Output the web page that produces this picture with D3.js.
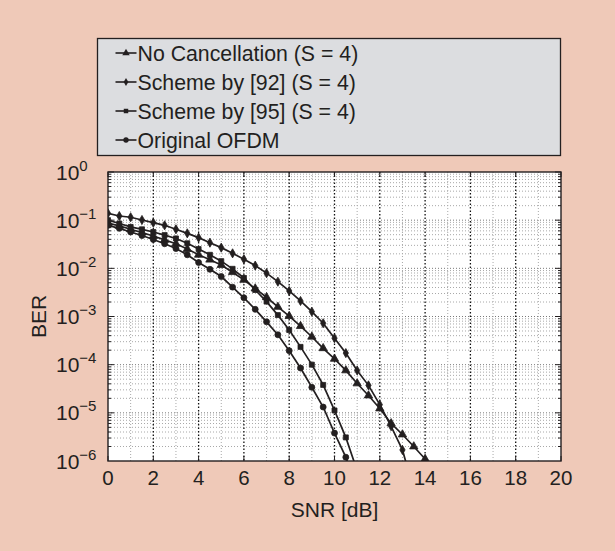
<!DOCTYPE html>
<html>
<head>
<meta charset="utf-8">
<script src="https://cdn.jsdelivr.net/npm/d3@7"></script>
<style>
  html, body { margin: 0; padding: 0; background: #efc9b8; }
  svg { display: block; font-family: "Liberation Sans", Arial, Helvetica, sans-serif; }
</style>
</head>
<body>
<svg id="chart" width="615" height="551"></svg>
<script>
// SNR sample points shared by all curves (dB)
const snrDb = [0, 0.5, 1, 1.5, 2, 2.5, 3, 3.5, 4, 4.5, 5, 5.5, 6, 6.5, 7, 7.5,
  8, 8.5, 9, 9.5, 10, 10.5, 11, 11.5, 12, 12.5, 13, 13.5, 14, 14.5];

// BER values, one entry per SNR point
const berNoCancel = [0.0871, 0.0759, 0.0646, 0.0550, 0.0468, 0.0389, 0.0324, 0.0251,
  0.0191, 0.0151, 0.0117, 0.00832, 0.00575, 0.00380, 0.00251, 0.00158,
  0.00102, 6.31e-4, 3.80e-4, 2.19e-4, 1.32e-4, 7.59e-5, 4.07e-5, 2.29e-5,
  1.23e-5, 6.03e-6, 3.55e-6, 2.00e-6, 1.10e-6, 5.6e-7];
const berScheme92 = [0.139, 0.122, 0.115, 0.101, 0.0887, 0.0782, 0.0646, 0.0533,
  0.0434, 0.0341, 0.0269, 0.0205, 0.0155, 0.0114, 0.00794, 0.00528,
  0.00339, 0.00210, 0.00126, 7.24e-4, 3.55e-4, 1.74e-4, 7.59e-5, 3.72e-5,
  1.48e-5, 5.25e-6, 1.70e-6, 2.5e-7];
const berScheme95 = [0.100, 0.0851, 0.0724, 0.0646, 0.0569, 0.0490, 0.0417, 0.0331,
  0.0251, 0.0191, 0.0141, 0.00977, 0.00631, 0.00355, 0.00204, 0.00107,
  5.25e-4, 2.34e-4, 1.00e-4, 3.80e-5, 1.12e-5, 3.09e-6, 6.3e-7];
const berOriginal = [0.0782, 0.0676, 0.0569, 0.0479, 0.0398, 0.0324, 0.0257, 0.0191,
  0.0132, 0.00955, 0.00676, 0.00407, 0.00245, 0.00141, 7.76e-4, 4.17e-4,
  1.95e-4, 8.51e-5, 3.39e-5, 1.32e-5, 3.80e-6, 1.20e-6, 2.5e-7];

const seriesNames = ["No Cancellation (S = 4)", "Scheme by [92] (S = 4)",
  "Scheme by [95] (S = 4)", "Original OFDM"];

const xTicks = [0, 2, 4, 6, 8, 10, 12, 14, 16, 18, 20];
const yExponents = [0, -1, -2, -3, -4, -5, -6];

const series = [
  { name: seriesNames[0], values: berNoCancel, symbol: d3.symbolTriangle, size: 30 },
  { name: seriesNames[1], values: berScheme92, symbol: d3.symbolDiamond, size: 24 },
  { name: seriesNames[2], values: berScheme95, symbol: d3.symbolSquare, size: 25 },
  { name: seriesNames[3], values: berOriginal, symbol: d3.symbolCircle, size: 28 }
];

const ink = "#231f20";
const svg = d3.select("#chart");
svg.append("rect").attr("width", 615).attr("height", 551).attr("fill", "#efc9b8");

const plot = { left: 108, right: 561, top: 172, bottom: 461 };
const x = d3.scaleLinear().domain([0, 20]).range([plot.left, plot.right]);
const y = d3.scaleLog().domain([1e-6, 1]).range([plot.bottom, plot.top]);

// plot background
svg.append("rect")
  .attr("x", plot.left).attr("y", plot.top)
  .attr("width", plot.right - plot.left).attr("height", plot.bottom - plot.top)
  .attr("fill", "#ffffff");

const grid = svg.append("g");

// horizontal grid: decades and 2..9 minor lines
const minorY = [];
for (let e = -6; e < 0; e++) {
  for (let m = 1; m <= 9; m++) {
    const v = m * Math.pow(10, e);
    if (v > 1e-6 && v < 1) minorY.push({ v, major: m === 1 });
  }
}
grid.selectAll("line.hy").data(minorY).join("line")
  .attr("x1", plot.left).attr("x2", plot.right)
  .attr("y1", d => y(d.v)).attr("y2", d => y(d.v))
  .attr("stroke", d => d.major ? "#7a7a7a" : "#a8a8a8")
  .attr("stroke-width", 1)
  .attr("stroke-dasharray", "1,2");

// vertical grid: dark at even dB, light at odd dB
const vLines = d3.range(1, 20).map(v => ({ v, major: v % 2 === 0 }));
grid.selectAll("line.vx").data(vLines).join("line")
  .attr("x1", d => x(d.v)).attr("x2", d => x(d.v))
  .attr("y1", plot.top).attr("y2", plot.bottom)
  .attr("stroke", d => d.major ? "#111" : "#a8a8a8")
  .attr("stroke-width", d => d.major ? 1.3 : 1)
  .attr("stroke-dasharray", d => d.major ? "1.5,2" : "1,2");

// inward ticks on all four sides
const ticks = svg.append("g").attr("stroke", ink).attr("stroke-width", 1);
xTicks.forEach(t => {
  ticks.append("line").attr("x1", x(t)).attr("x2", x(t))
    .attr("y1", plot.bottom).attr("y2", plot.bottom - 5);
  ticks.append("line").attr("x1", x(t)).attr("x2", x(t))
    .attr("y1", plot.top).attr("y2", plot.top + 5);
});
minorY.concat([{ v: 1, major: true }]).forEach(d => {
  const len = d.major ? 6 : 3;
  ticks.append("line").attr("x1", plot.left).attr("x2", plot.left + len)
    .attr("y1", y(d.v)).attr("y2", y(d.v));
  ticks.append("line").attr("x1", plot.right).attr("x2", plot.right - len)
    .attr("y1", y(d.v)).attr("y2", y(d.v));
});

// curves
svg.append("clipPath").attr("id", "plot-clip").append("rect")
  .attr("x", plot.left).attr("y", plot.top)
  .attr("width", plot.right - plot.left).attr("height", plot.bottom - plot.top);

const line = d3.line().x(d => x(d[0])).y(d => y(d[1]));
const curves = svg.append("g").attr("clip-path", "url(#plot-clip)");
series.forEach(s => {
  const pts = s.values.map((v, i) => [snrDb[i], v]);
  curves.append("path").datum(pts)
    .attr("d", line)
    .attr("fill", "none").attr("stroke", ink).attr("stroke-width", 1.7);
  const sym = d3.symbol().type(s.symbol).size(s.size);
  curves.selectAll(null).data(pts.filter(p => p[1] >= 1e-6)).join("path")
    .attr("transform", d => `translate(${x(d[0])},${y(d[1])})`)
    .attr("d", sym)
    .attr("fill", ink).attr("stroke", ink).attr("stroke-width", 0.8);
});

// frame
svg.append("rect")
  .attr("x", plot.left).attr("y", plot.top)
  .attr("width", plot.right - plot.left).attr("height", plot.bottom - plot.top)
  .attr("fill", "none").attr("stroke", ink).attr("stroke-width", 1.4);

// x tick labels
svg.append("g").selectAll("text").data(xTicks).join("text")
  .attr("x", d => x(d)).attr("y", 485)
  .attr("text-anchor", "middle")
  .attr("font-size", 20.5).attr("fill", ink)
  .text(d => d);

// y tick labels as powers of ten
const yl = svg.append("g");
yExponents.forEach(e => {
  const t = yl.append("text")
    .attr("x", 56).attr("y", y(Math.pow(10, e)) + 7.5)
    .attr("font-size", 21).attr("fill", ink);
  t.append("tspan").text("10");
  t.append("tspan").attr("dy", -9).attr("font-size", 15)
    .text(e === 0 ? "0" : "\u2212" + Math.abs(e));
});

// axis titles
svg.append("text")
  .attr("x", (plot.left + plot.right) / 2).attr("y", 517)
  .attr("text-anchor", "middle").attr("font-size", 21).attr("fill", ink)
  .text("SNR [dB]");
svg.append("text")
  .attr("transform", `translate(46,${(plot.top + plot.bottom) / 2}) rotate(-90)`)
  .attr("text-anchor", "middle").attr("font-size", 21).attr("fill", ink)
  .text("BER");

// legend
const legend = svg.append("g");
legend.append("rect")
  .attr("x", 97.5).attr("y", 38.5).attr("width", 463).attr("height", 117)
  .attr("fill", "#dcdde0").attr("stroke", ink).attr("stroke-width", 1.3);
series.forEach((s, i) => {
  const base = 60.5 + i * 29;
  const cy = base - 7.5;
  legend.append("line")
    .attr("x1", 115.5).attr("x2", 136.5).attr("y1", cy).attr("y2", cy)
    .attr("stroke", ink).attr("stroke-width", 1.6);
  legend.append("path")
    .attr("transform", `translate(126,${cy})`)
    .attr("d", d3.symbol().type(s.symbol).size(s.size * 0.8)())
    .attr("fill", ink);
  legend.append("text")
    .attr("x", 137.5).attr("y", base)
    .attr("font-size", 21.3).attr("fill", ink)
    .text(s.name);
});
</script>
</body>
</html>
